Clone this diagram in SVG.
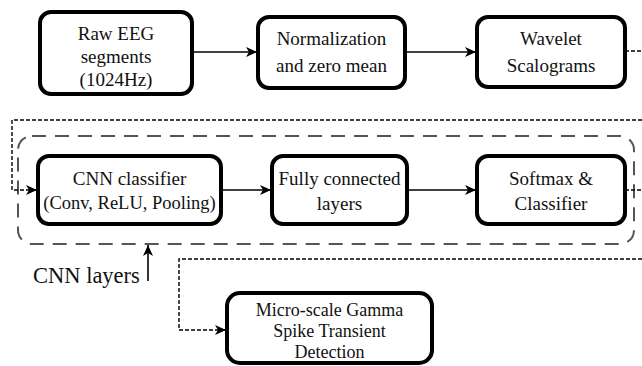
<svg xmlns="http://www.w3.org/2000/svg" width="642" height="366" viewBox="0 0 642 366" font-family="'Liberation Serif', 'Times New Roman', 'DejaVu Serif', serif">
<style>
.box{fill:#fff;stroke:#000;stroke-width:4}
text{font-family:'Liberation Serif','Times New Roman','DejaVu Serif',serif}
.t{font-size:19px;fill:#111;text-anchor:middle}
.t4{font-size:18px}
.solid{fill:none;stroke:#000;stroke-width:1.6}
.dash{fill:none;stroke:#000;stroke-width:1.4;stroke-dasharray:4 2}
.grp{fill:none;stroke:#555;stroke-width:2;stroke-dasharray:14 9}
</style>
<defs>
<marker id="ah" markerUnits="userSpaceOnUse" markerWidth="12" markerHeight="10" refX="11" refY="5" orient="auto">
<path d="M0,0 L11,5 L0,10 L3,5 z" fill="#000"/>
</marker>
</defs>
<rect width="642" height="366" fill="#fff"/>
<g id="cnn-layers-group">
<rect class="grp" x="18" y="136" width="616" height="108" rx="14"/>
<text class="t" x="33" y="283" style="font-size:22.5px;text-anchor:start">CNN layers</text>
</g>
<g id="connectors">
<path class="solid" d="M192,52 H257" marker-end="url(#ah)"/>
<path class="solid" d="M405,52 H476" marker-end="url(#ah)"/>
<path class="solid" d="M221,190 H271" marker-end="url(#ah)"/>
<path class="solid" d="M407,190 H476" marker-end="url(#ah)"/>
<path class="dash" d="M625,51 H642"/>
<path class="dash" d="M642,120 H12 V190 H37" marker-end="url(#ah)"/>
<path class="dash" d="M625,190 H642"/>
<path class="dash" d="M642,259 H179 V330 H226" marker-end="url(#ah)"/>
<path class="solid" d="M148,281 V245" marker-end="url(#ah)"/>
</g>
<g id="raw-eeg">
<rect class="box" x="40" y="12" width="152" height="82" rx="11"/>
<text class="t" x="116" y="40">Raw EEG</text>
<text class="t" x="116" y="63">segments</text>
<text class="t" x="116" y="86">(1024Hz)</text>
</g>
<g id="normalization">
<rect class="box" x="258" y="17" width="147" height="71" rx="11"/>
<text class="t" x="331.5" y="45">Normalization</text>
<text class="t" x="331.5" y="72">and zero mean</text>
</g>
<g id="wavelet">
<rect class="box" x="477" y="17" width="148" height="70" rx="11"/>
<text class="t" x="551" y="45">Wavelet</text>
<text class="t" x="551" y="72">Scalograms</text>
</g>
<g id="cnn-classifier">
<rect class="box" x="38" y="156" width="183" height="68" rx="11"/>
<text class="t" x="129.5" y="185">CNN classifier</text>
<text class="t" x="129.5" y="209" style="font-size:18.5px">(Conv, ReLU, Pooling)</text>
</g>
<g id="fully-connected">
<rect class="box" x="272" y="156" width="135" height="68" rx="11"/>
<text class="t" x="339.5" y="185">Fully connected</text>
<text class="t" x="339.5" y="210">layers</text>
</g>
<g id="softmax">
<rect class="box" x="477" y="156" width="148" height="68" rx="11"/>
<text class="t" x="551" y="185">Softmax &amp;</text>
<text class="t" x="551" y="210">Classifier</text>
</g>
<g id="gamma-detection">
<rect class="box" x="227" y="293" width="205" height="70" rx="13"/>
<text class="t t4" x="329.5" y="316">Micro-scale Gamma</text>
<text class="t t4" x="329.5" y="337">Spike Transient</text>
<text class="t t4" x="329.5" y="358">Detection</text>
</g>
</svg>
